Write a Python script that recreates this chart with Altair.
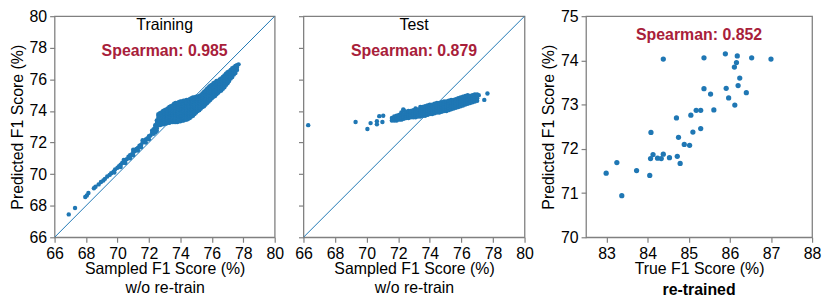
import altair as alt
import pandas as pd

# ---------------- data ----------------
# Training panel: sampled F1 (x) vs predicted F1 (y)
train_tail_x = [66.9, 67.3, 67.95, 68.05, 68.15, 68.5, 68.6, 68.8, 68.95, 69.1, 69.2, 69.35,
                69.5, 69.6, 69.75, 69.85, 70.0, 70.1, 70.2, 70.3, 70.4, 70.5, 70.6, 70.7,
                70.8, 70.9, 71.0, 71.1, 71.2, 71.3, 71.4, 71.5, 71.6, 71.7, 71.8, 71.9,
                72.0, 72.1, 72.2,
                69.8, 70.2, 70.5, 70.8, 71.0, 71.3, 71.5, 71.8, 72.0,
                70.4, 71.0, 71.6, 72.2]
train_tail_y = [67.45, 67.85, 68.55, 68.65, 68.8, 69.1, 69.2, 69.35, 69.5, 69.6, 69.7, 69.85,
                69.95, 70.05, 70.15, 70.3, 70.4, 70.5, 70.6, 70.7, 70.75, 70.9, 70.95, 71.1,
                71.2, 71.25, 71.4, 71.45, 71.6, 71.65, 71.8, 71.85, 72.0, 72.05, 72.2, 72.25,
                72.4, 72.45, 72.6,
                70.1, 70.45, 70.7, 71.0, 71.2, 71.5, 71.7, 72.0, 72.2,
                70.9, 71.55, 72.15, 72.75]
train_cols_x = [72.3, 72.4, 72.5, 72.6, 72.7, 72.8, 72.9, 73.0, 73.1, 73.2, 73.3, 73.4,
                73.5, 73.6, 73.7, 73.8, 73.9, 74.0, 74.1, 74.2, 74.3, 74.4, 74.5, 74.6,
                74.7, 74.8, 74.9, 75.0, 75.1, 75.2, 75.3, 75.4, 75.5, 75.6, 75.7, 75.8,
                75.9, 76.0, 76.1, 76.2, 76.3, 76.4, 76.5, 76.6, 76.7, 76.8, 76.9, 77.0,
                77.1, 77.2, 77.3, 77.4, 77.5, 77.6, 77.7]
train_cols_y = [
    [72.55, 72.7, 72.85],
    [72.65, 72.8, 72.95, 73.1],
    [72.75, 72.9, 73.05, 73.2, 73.4],
    [73.1, 73.25, 73.4, 73.55, 73.7, 73.8],
    [73.1, 73.25, 73.4, 73.55, 73.7, 73.85],
    [73.15, 73.3, 73.45, 73.6, 73.75, 73.9],
    [73.15, 73.3, 73.45, 73.6, 73.75, 73.9, 74.0],
    [73.2, 73.35, 73.5, 73.65, 73.8, 73.95, 74.05],
    [73.2, 73.35, 73.5, 73.65, 73.8, 73.95, 74.1],
    [73.25, 73.4, 73.55, 73.7, 73.85, 74.0, 74.15],
    [73.25, 73.4, 73.55, 73.7, 73.85, 74.0, 74.15, 74.25],
    [73.3, 73.45, 73.6, 73.75, 73.9, 74.05, 74.2, 74.3],
    [73.3, 73.45, 73.6, 73.75, 73.9, 74.05, 74.2, 74.35],
    [73.3, 73.45, 73.6, 73.75, 73.9, 74.05, 74.2, 74.35, 74.45],
    [73.3, 73.45, 73.6, 73.75, 73.9, 74.05, 74.2, 74.35, 74.5],
    [73.3, 73.45, 73.6, 73.75, 73.9, 74.05, 74.2, 74.35, 74.5],
    [73.35, 73.5, 73.65, 73.8, 73.95, 74.1, 74.25, 74.4, 74.55],
    [73.35, 73.5, 73.65, 73.8, 73.95, 74.1, 74.25, 74.4, 74.6],
    [73.4, 73.55, 73.7, 73.85, 74.0, 74.15, 74.3, 74.45, 74.6],
    [73.4, 73.55, 73.7, 73.85, 74.0, 74.15, 74.3, 74.45, 74.65],
    [73.45, 73.6, 73.75, 73.9, 74.05, 74.2, 74.35, 74.5, 74.65],
    [73.45, 73.6, 73.75, 73.9, 74.05, 74.2, 74.35, 74.5, 74.7],
    [73.5, 73.65, 73.8, 73.95, 74.1, 74.25, 74.4, 74.55, 74.7],
    [73.55, 73.7, 73.85, 74.0, 74.15, 74.3, 74.45, 74.6, 74.75],
    [73.65, 73.8, 73.95, 74.1, 74.25, 74.4, 74.55, 74.7, 74.8],
    [73.7, 73.85, 74.0, 74.15, 74.3, 74.45, 74.6, 74.75, 74.85],
    [73.8, 73.95, 74.1, 74.25, 74.4, 74.55, 74.7, 74.85],
    [73.9, 74.05, 74.2, 74.35, 74.5, 74.65, 74.8, 74.9],
    [74.0, 74.15, 74.3, 74.45, 74.6, 74.75, 74.9],
    [74.05, 74.2, 74.35, 74.5, 74.65, 74.8, 74.95],
    [74.15, 74.3, 74.45, 74.6, 74.75, 74.9, 75.0],
    [74.25, 74.4, 74.55, 74.7, 74.85, 75.0, 75.1],
    [74.3, 74.45, 74.6, 74.75, 74.9, 75.05, 75.2],
    [74.4, 74.55, 74.7, 74.85, 75.0, 75.15, 75.3],
    [74.5, 74.65, 74.8, 74.95, 75.1, 75.25, 75.4],
    [74.6, 74.75, 74.9, 75.05, 75.2, 75.35, 75.5],
    [74.7, 74.85, 75.0, 75.15, 75.3, 75.45, 75.6],
    [74.8, 74.95, 75.1, 75.25, 75.4, 75.55, 75.65],
    [74.9, 75.05, 75.2, 75.35, 75.5, 75.65, 75.75],
    [74.95, 75.1, 75.25, 75.4, 75.55, 75.7, 75.8],
    [75.05, 75.2, 75.35, 75.5, 75.65, 75.8, 75.9],
    [75.15, 75.3, 75.45, 75.6, 75.75, 75.9],
    [75.25, 75.4, 75.55, 75.7, 75.85, 76.0],
    [75.3, 75.45, 75.6, 75.75, 75.9, 76.05],
    [75.4, 75.55, 75.7, 75.85, 76.0, 76.15],
    [75.5, 75.65, 75.8, 75.95, 76.1, 76.25],
    [75.65, 75.8, 75.95, 76.1, 76.25, 76.35],
    [75.75, 75.9, 76.05, 76.2, 76.35, 76.45],
    [75.9, 76.05, 76.2, 76.35, 76.5],
    [76.05, 76.2, 76.35, 76.5, 76.6],
    [76.15, 76.3, 76.45, 76.6, 76.7],
    [76.3, 76.45, 76.6, 76.75],
    [76.4, 76.55, 76.7, 76.85],
    [76.6, 76.75, 76.9],
    [76.95],
]

# Test panel
test_out_x = [66.3, 69.3, 70.05, 70.25, 70.65, 70.65, 70.8, 71.05, 71.0, 72.32,
              77.1, 77.45, 77.65]
test_out_y = [73.1, 73.3, 72.86, 73.23, 73.35, 73.15, 73.67, 73.7, 73.3, 74.09,
              75.0, 74.7, 75.1]
test_cols_x = [71.6, 71.75, 71.9, 72.05, 72.2, 72.35, 72.5, 72.65, 72.8, 72.95, 73.1,
               73.25, 73.4, 73.55, 73.7, 73.85, 74.0, 74.15, 74.3, 74.45, 74.6, 74.75,
               74.9, 75.05, 75.2, 75.35, 75.5, 75.65, 75.8, 75.95, 76.1, 76.25, 76.4,
               76.55, 76.7, 76.85, 77.0]
test_cols_y = [
    [73.4, 73.55], [73.4, 73.55, 73.65], [73.4, 73.55, 73.7], [73.45, 73.6, 73.75],
    [73.45, 73.6, 73.75, 73.9], [73.5, 73.65, 73.8, 74.05], [73.55, 73.7, 73.85, 73.95],
    [73.55, 73.7, 73.85, 74.0], [73.6, 73.75, 73.9, 74.0], [73.6, 73.75, 73.9, 74.05],
    [73.6, 73.75, 73.9, 74.05, 74.15], [73.65, 73.8, 73.95, 74.1],
    [73.65, 73.8, 73.95, 74.1, 74.25], [73.7, 73.85, 74.0, 74.15, 74.25],
    [73.7, 73.85, 74.0, 74.15, 74.3], [73.75, 73.9, 74.05, 74.2, 74.35],
    [73.8, 73.95, 74.1, 74.25, 74.4], [73.8, 73.95, 74.1, 74.25, 74.4],
    [73.85, 74.0, 74.15, 74.3, 74.45], [73.9, 74.05, 74.2, 74.35, 74.5],
    [73.9, 74.05, 74.2, 74.35, 74.5], [73.95, 74.1, 74.25, 74.4, 74.55],
    [74.0, 74.15, 74.3, 74.45, 74.6], [74.0, 74.15, 74.3, 74.45, 74.6],
    [74.05, 74.2, 74.35, 74.5, 74.65], [74.1, 74.25, 74.4, 74.55, 74.7],
    [74.15, 74.3, 74.45, 74.6, 74.7], [74.2, 74.35, 74.5, 74.65, 74.75],
    [74.25, 74.4, 74.55, 74.7, 74.8], [74.3, 74.45, 74.6, 74.75, 74.85],
    [74.35, 74.5, 74.65, 74.8, 74.9], [74.4, 74.55, 74.7, 74.85, 74.95],
    [74.45, 74.6, 74.75, 74.9, 75.0], [74.5, 74.65, 74.8, 74.95],
    [74.55, 74.7, 74.85, 75.0], [74.6, 74.75, 74.9, 75.05], [74.65, 74.8, 74.95, 75.05],
]

# Re-trained panel: true F1 (x) vs predicted F1 (y)
retrain_x = [84.38, 85.37, 85.89, 86.18, 86.53, 87.0, 86.16, 86.11, 86.24, 86.20,
             85.91, 85.37, 85.53, 86.40, 85.97, 86.12, 85.18, 85.29, 85.61, 85.05,
             84.70, 85.29, 85.10, 84.08, 84.75, 84.89, 85.02, 84.13, 84.38, 84.07,
             84.24, 84.33, 84.53, 84.72, 83.25, 84.79, 83.73, 82.99, 84.05, 83.37]
retrain_y = [74.03, 74.06, 74.15, 74.10, 74.06, 74.03, 73.95, 73.85, 73.60, 73.43,
             73.37, 73.36, 73.24, 73.27, 73.15, 72.99, 72.87, 72.87, 72.88, 72.76,
             72.70, 72.46, 72.38, 72.37, 72.26, 72.10, 72.08, 71.87, 71.88, 71.78,
             71.79, 71.78, 71.80, 71.83, 71.69, 71.67, 71.51, 71.45, 71.40, 70.94]

diag = [66, 80]
ticks_a = [66, 68, 70, 72, 74, 76, 78, 80]
ticks_rx = [83, 84, 85, 86, 87, 88]
ticks_ry = [70, 71, 72, 73, 74, 75]
panel_titles = ["Training", "Test"]
spearman = ["Spearman: 0.985", "Spearman: 0.879", "Spearman: 0.852"]
xtitle_a = ["Sampled F1 Score (%)", "w/o re-train"]
xtitle_r = "True F1 Score (%)"
xtitle_r2 = "re-trained"
ytitle = "Predicted F1 Score (%)"

# ---------------- build ----------------
BLUE = "#1f77b4"
RED = "#a8203a"
FONT = "Liberation Sans"


def flatten(cx, cy):
    xs, ys = [], []
    for x, col in zip(cx, cy):
        for y in col:
            xs.append(x)
            ys.append(y)
    return xs, ys


tcx, tcy = flatten(train_cols_x, train_cols_y)
train_df = pd.DataFrame({"x": train_tail_x + tcx, "y": train_tail_y + tcy})
ecx, ecy = flatten(test_cols_x, test_cols_y)
test_df = pd.DataFrame({"x": test_out_x + ecx, "y": test_out_y + ecy})
re_df = pd.DataFrame({"x": retrain_x, "y": retrain_y})
diag_df = pd.DataFrame({"x": diag, "y": diag})

H = 223
AX = dict(labelOverlap=False, labelFlush=False, labelSeparation=0)
NT = len(ticks_a)


def wo_panel(df, title, sp, w, show_y):
    xs = alt.Scale(domain=[66, 80], nice=False, zero=False)
    ys = alt.Scale(domain=[66, 80], nice=False, zero=False)
    xax = alt.Axis(values=ticks_a, tickCount=NT, title=xtitle_a,
                   titleLineHeight=19, titlePadding=0, **AX)
    if show_y:
        yax = alt.Axis(values=ticks_a, tickCount=NT, title=ytitle, titlePadding=4, **AX)
    else:
        yax = alt.Axis(values=ticks_a, tickCount=NT, title=None, labels=False)
    pts = alt.Chart(df).mark_circle(size=20, color=BLUE, opacity=1).encode(
        x=alt.X("x:Q", scale=xs, axis=xax),
        y=alt.Y("y:Q", scale=ys, axis=yax),
    )
    line = alt.Chart(diag_df).mark_line(color=BLUE, strokeWidth=1, clip=True).encode(
        x=alt.X("x:Q", scale=xs, axis=xax), y=alt.Y("y:Q", scale=ys, axis=yax)
    )
    t1 = alt.Chart(pd.DataFrame({"t": [title]})).mark_text(
        font=FONT, fontSize=16, color="black", baseline="alphabetic", align="center"
    ).encode(text="t:N", x=alt.value(w / 2), y=alt.value(14))
    t2 = alt.Chart(pd.DataFrame({"t": [sp]})).mark_text(
        font=FONT, fontSize=16, fontWeight="bold", color=RED, baseline="alphabetic", align="center"
    ).encode(text="t:N", x=alt.value(w / 2), y=alt.value(40))
    return alt.layer(line, pts, t1, t2).properties(width=w, height=H)


p1 = wo_panel(train_df, panel_titles[0], spearman[0], 222, True)
p2 = wo_panel(test_df, panel_titles[1], spearman[1], 223, False)

W3 = 228
pts3 = alt.Chart(re_df).mark_circle(size=28, color=BLUE, opacity=1).encode(
    x=alt.X("x:Q", scale=alt.Scale(domain=[82.5, 88], nice=False, zero=False),
            axis=alt.Axis(values=ticks_rx, tickCount=len(ticks_rx), title=xtitle_r,
                          titlePadding=0, **AX)),
    y=alt.Y("y:Q", scale=alt.Scale(domain=[70, 75], nice=False, zero=False),
            axis=alt.Axis(values=ticks_ry, tickCount=len(ticks_ry), title=ytitle,
                          titlePadding=4, **AX)),
)
s3 = alt.Chart(pd.DataFrame({"t": [spearman[2]]})).mark_text(
    font=FONT, fontSize=16, fontWeight="bold", color=RED, baseline="alphabetic", align="center"
).encode(text="t:N", x=alt.value(W3 / 2), y=alt.value(24))
b3 = alt.Chart(pd.DataFrame({"t": [xtitle_r2]})).mark_text(
    font=FONT, fontSize=16, fontWeight="bold", color="black", baseline="alphabetic", align="center"
).encode(text="t:N", x=alt.value(W3 / 2), y=alt.value(H + 58))
p3 = alt.layer(pts3, s3, b3).properties(width=W3, height=H)

chart = alt.hconcat(
    alt.hconcat(p1, p2, spacing=9),
    p3,
    spacing=5,
).properties(
    padding={"left": 0, "top": -2, "right": 0, "bottom": 0}
).configure_view(
    stroke="#808080", strokeWidth=1.3
).configure_axis(
    labelFont=FONT, labelFontSize=16, labelColor="black",
    titleFont=FONT, titleFontSize=16, titleFontWeight="normal", titleColor="black",
    domain=False, grid=False, tickColor="#808080", tickSize=5, tickWidth=1.2,
    labelPadding=3, labelFlush=False, labelOverlap=False,
)

chart.save("out.html", embed_options={"renderer": "svg", "actions": False})
